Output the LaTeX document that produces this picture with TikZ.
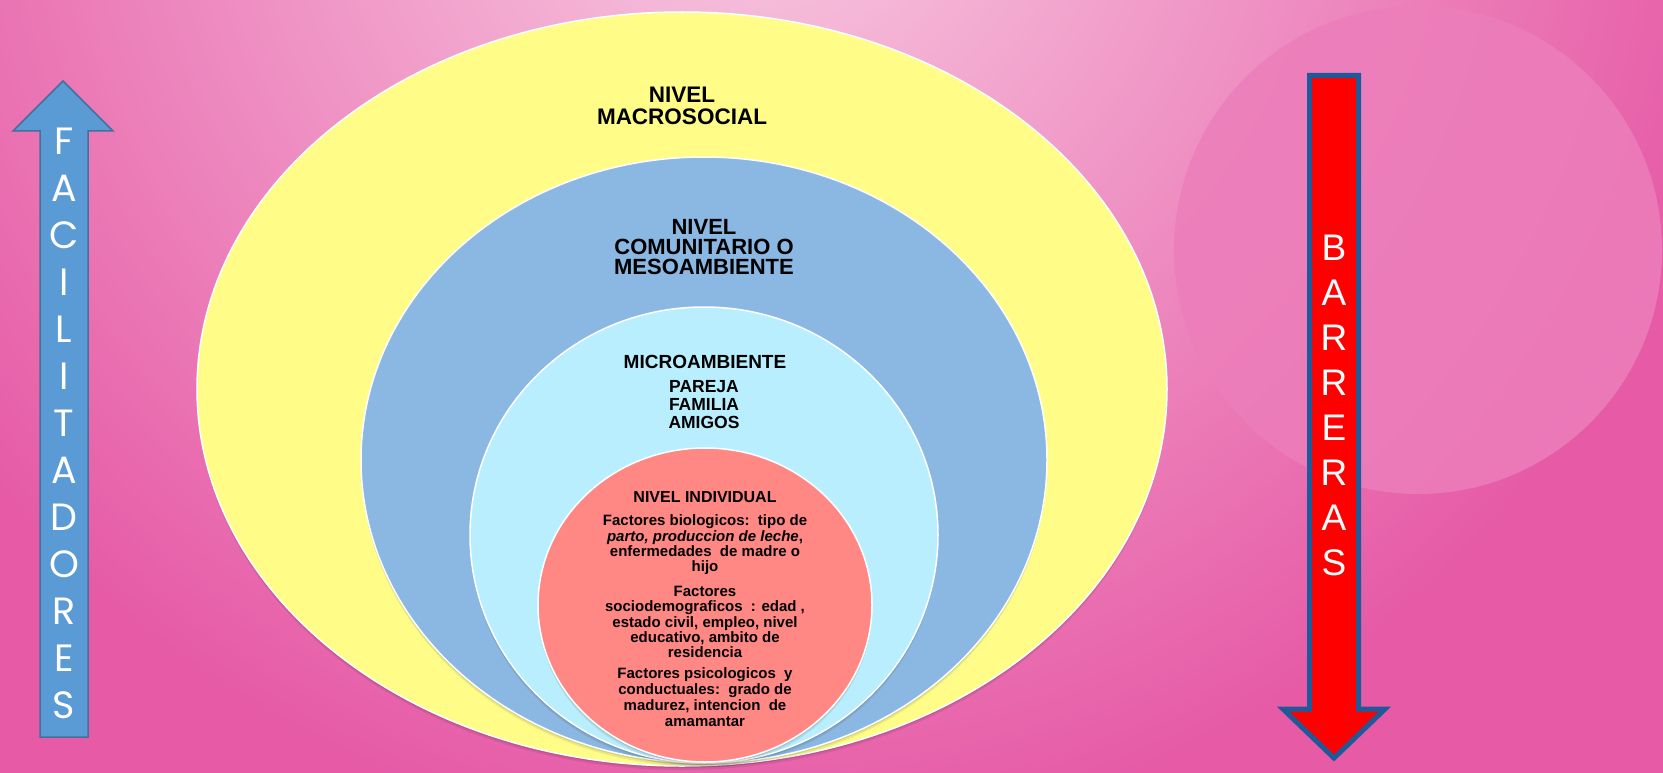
\documentclass[tikz,border=0pt]{standalone}
\usepackage{fontspec}
\setmainfont{Liberation Sans}
\newfontfamily\gothic{Poppins}
\usetikzlibrary{shapes.geometric,shadows}
\definecolor{bglight}{HTML}{F6BEDB}
\definecolor{bgdark}{HTML}{E65AA6}
\definecolor{pinkcirc}{HTML}{EC7EBB}
\definecolor{yellowc}{HTML}{FFFD88}
\definecolor{bluec}{HTML}{8AB8E3}
\definecolor{lightbluec}{HTML}{B8EEFD}
\definecolor{redc}{HTML}{FF8884}
\definecolor{facblue}{HTML}{5B9BD5}
\definecolor{facborder}{HTML}{41719C}
\definecolor{barborder}{HTML}{1E5A99}
\pgfdeclareradialshading{bgshade}{\pgfpoint{0bp}{0bp}}{color(0bp)=(bglight); color(3bp)=(bglight); color(25bp)=(bgdark); color(50bp)=(bgdark)}
\tikzset{
  lvl/.style={ellipse, draw=white, line width=1.5pt, inner sep=0pt,
    general shadow={fill=black, opacity=0.10, shadow yshift=-2pt},
    general shadow={fill=black, opacity=0.08, shadow yshift=-4pt}},
  lbl/.style={align=center, inner sep=0pt, text=black},
  faclet/.style={inner sep=0pt, text=white, font=\gothic\fontsize{38}{38}\selectfont},
  barlet/.style={inner sep=0pt, text=white, font=\fontsize{37}{37}\selectfont},
}
\begin{document}
\begin{tikzpicture}[x=1pt,y=-1pt]
\useasboundingbox (0,0) rectangle (1663,773);
\fill[bgdark] (0,0) rectangle (1663,773);
\begin{scope}
  \clip (0,0) rectangle (1663,773);
  \path[shading=bgshade] (760,-150) circle (1000pt);
  \fill[pinkcirc, opacity=0.85] (1418,250) circle (244pt);
\end{scope}

% nested levels
\node[lvl, fill=yellowc, minimum width=970pt, minimum height=754pt] (macro) at (682,389) {};
\node[lvl, fill=bluec, minimum width=686pt, minimum height=606pt] (meso) at (704,460) {};
\node[lvl, fill=lightbluec, minimum width=468pt, minimum height=456pt] (micro) at (704,535) {};
\node[lvl, fill=redc, minimum width=334pt, minimum height=314pt] (indiv) at (705,605) {};

% texts
\node[lbl, font=\bfseries\fontsize{22.5}{22}\selectfont] (macrotxt) at (682,106) {NIVEL\\MACROSOCIAL};
\node[lbl, font=\bfseries\fontsize{22}{20}\selectfont] (mesotxt) at (704,247) {NIVEL\\COMUNITARIO O\\MESOAMBIENTE};
\node[lbl, font=\bfseries\fontsize{19}{19}\selectfont] (microtxt) at (705,362) {MICROAMBIENTE};
\node[lbl, font=\bfseries\fontsize{17.5}{18}\selectfont] (microlist) at (704,405) {PAREJA\\FAMILIA\\AMIGOS};
\node[lbl, font=\bfseries\fontsize{16}{16}\selectfont] (indivtxt) at (705,497) {NIVEL INDIVIDUAL};
\node[lbl, font=\bfseries\fontsize{15}{15.4}\selectfont] (bio) at (705,545)
  {Factores biologicos:\ \ tipo de\\\textit{parto, produccion de leche},\\enfermedades\ \ de madre o\\hijo};
\node[lbl, font=\bfseries\fontsize{15}{15.4}\selectfont] (socio) at (705,622)
  {Factores\\sociodemograficos\ \ : edad ,\\estado civil, empleo, nivel\\educativo, ambito de\\residencia};
\node[lbl, font=\bfseries\fontsize{15}{15.8}\selectfont] (psico) at (705,697)
  {Factores psicologicos\ \ y\\conductuales:\ \ grado de\\madurez, intencion\ \ de\\amamantar};

% left arrow: FACILITADORES
\path[draw=facborder, line width=1.5pt, fill=facblue, line join=miter]
  (63,81) -- (113,131) -- (88,131) -- (88,737) -- (40,737) -- (40,131) -- (13,131) -- cycle;
\foreach \l [count=\i from 0] in {F,A,C,I,L,I,T,A,D,O,R,E,S}
  \node[faclet] (fac\i) at (64,{141+47*\i}) {\l};

% right arrow: BARRERAS
\path[draw=barborder, line width=5pt, fill=red, line join=miter]
  (1309.5,75.5) -- (1358.5,75.5) -- (1358.5,709) -- (1385,709) -- (1334,758) -- (1283,709) -- (1309.5,709) -- cycle;
\foreach \l [count=\i from 0] in {B,A,R,R,E,R,A,S}
  \node[barlet] (bar\i) at (1334,{248+45*\i}) {\l};
\end{tikzpicture}
\end{document}
